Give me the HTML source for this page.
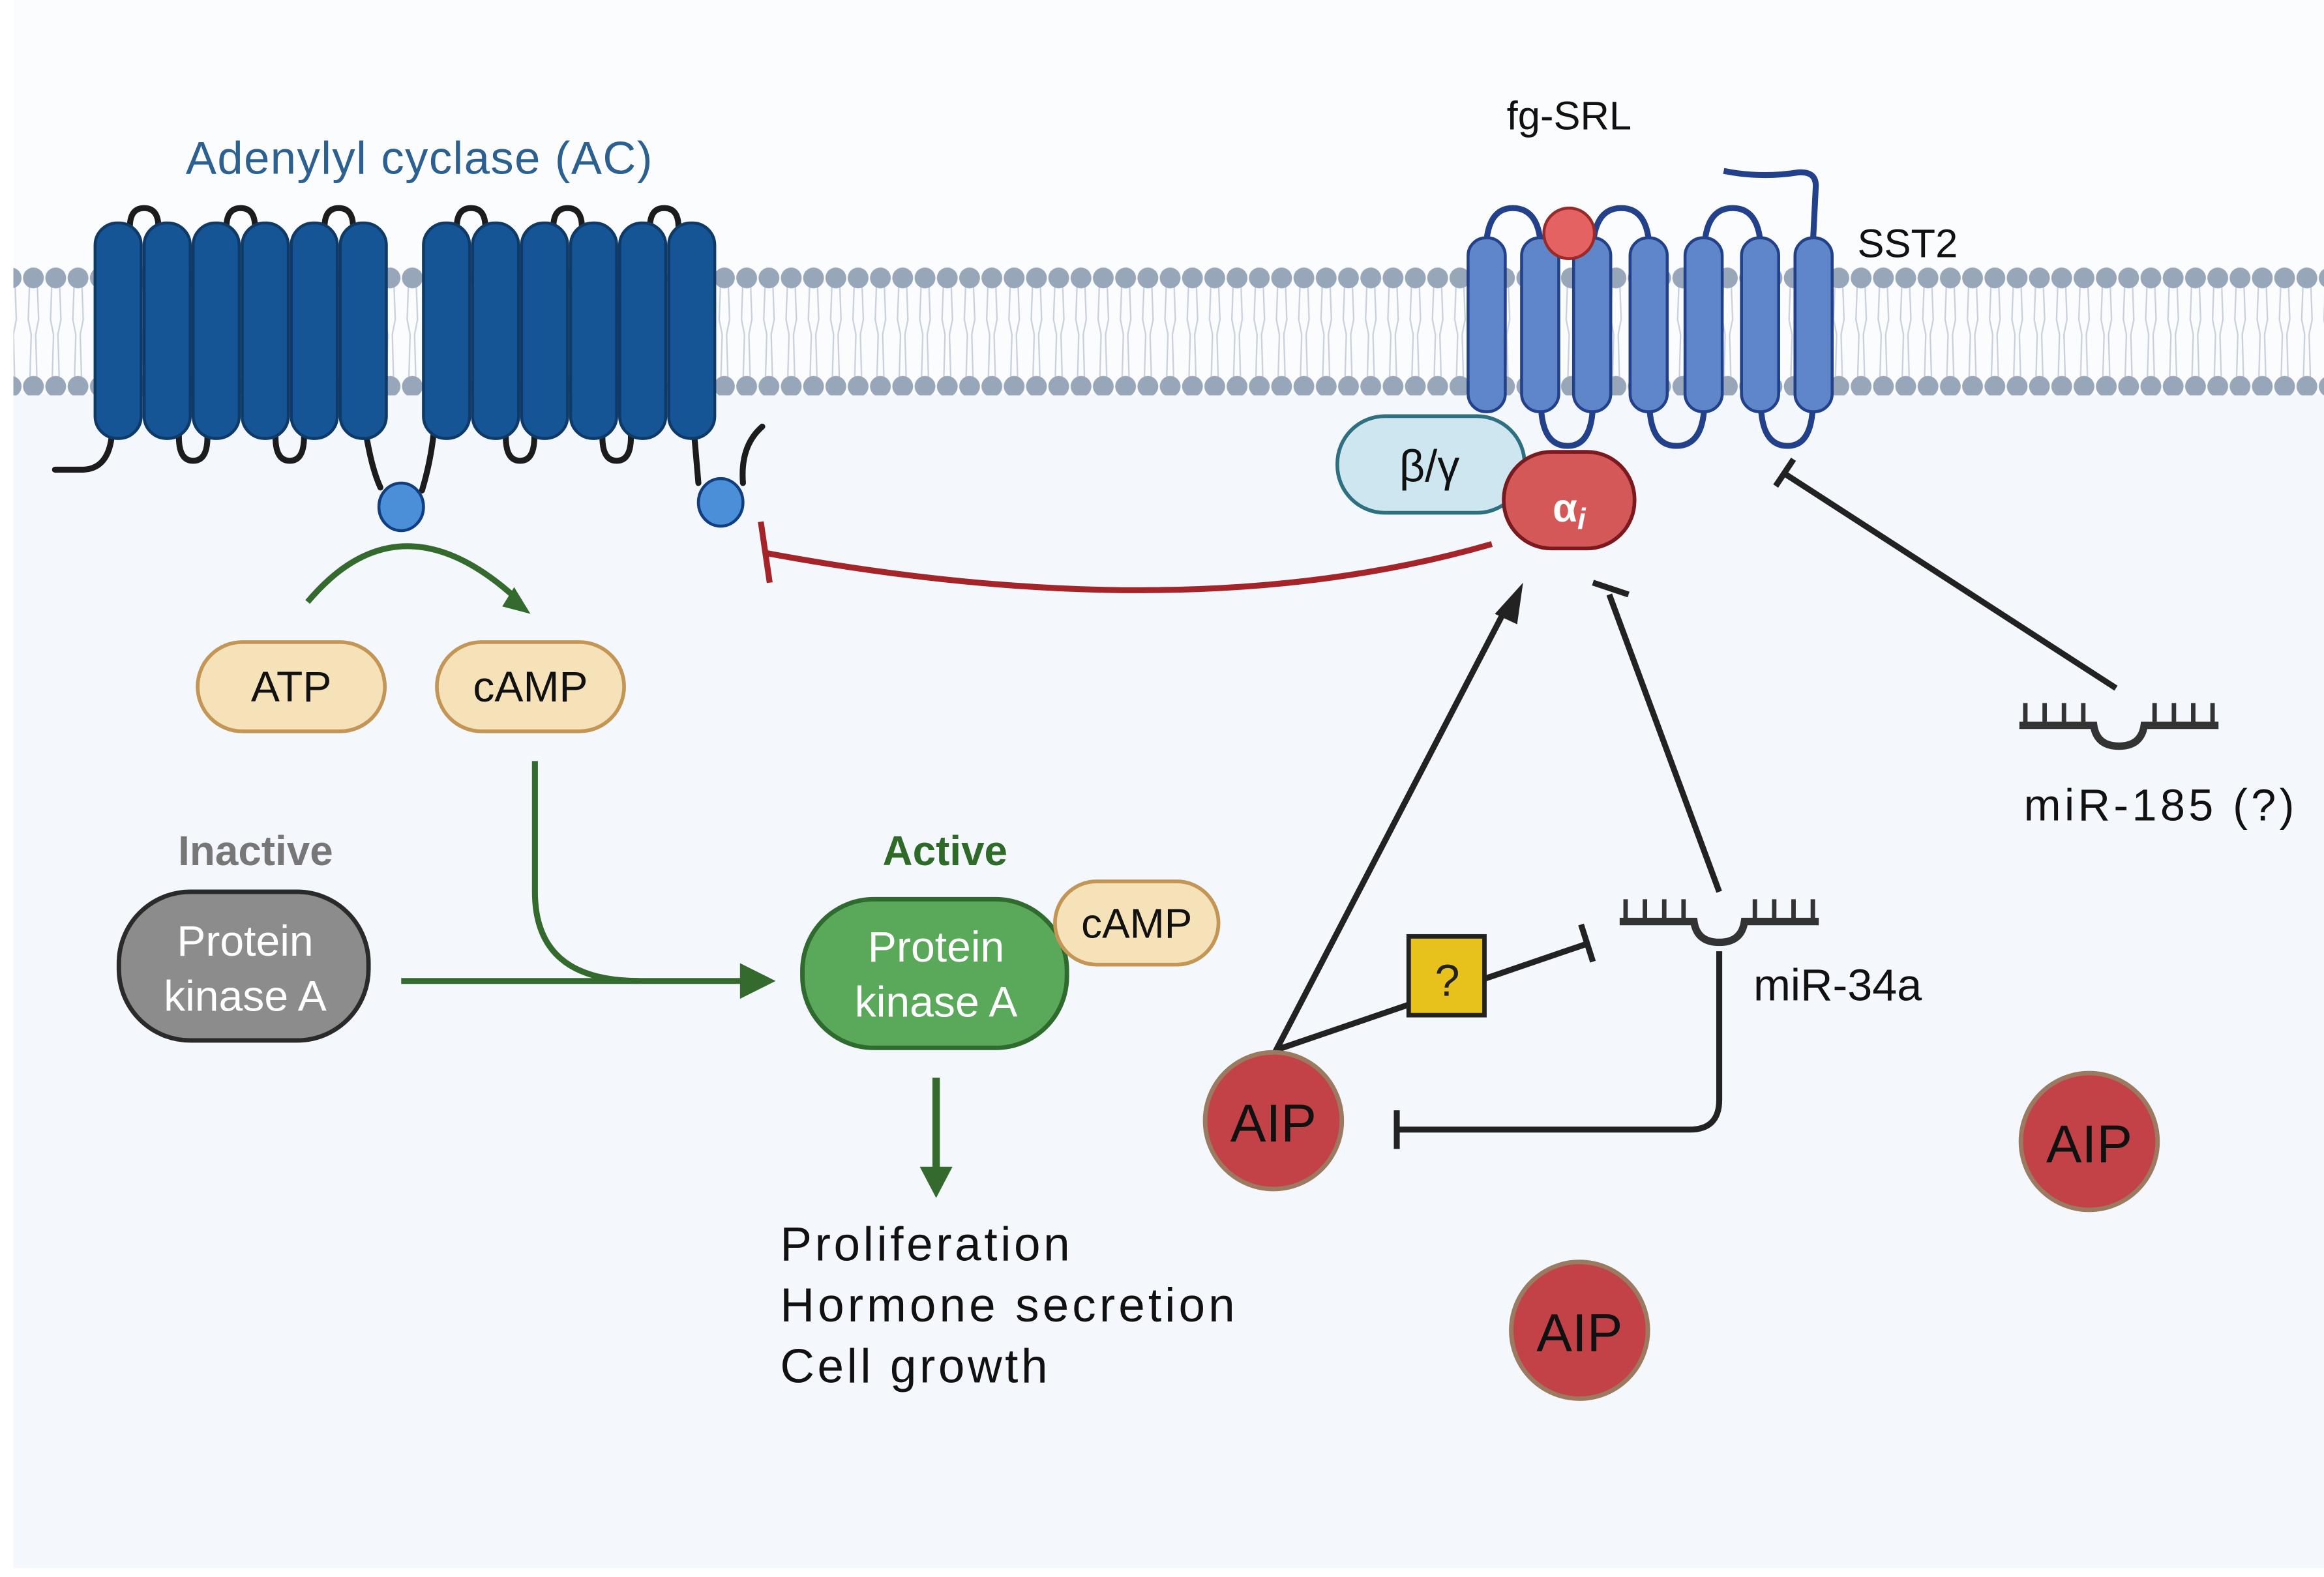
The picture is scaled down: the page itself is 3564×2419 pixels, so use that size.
<!DOCTYPE html>
<html><head><meta charset="utf-8"><style>
html,body{margin:0;padding:0;background:#fff}
svg{display:block}
text{font-family:"Liberation Sans","DejaVu Sans",sans-serif}
</style></head><body>
<svg width="3564" height="2419" viewBox="0 0 1564 1061" preserveAspectRatio="none" xmlns="http://www.w3.org/2000/svg">
<defs>
<pattern id="mem" x="0" y="0" width="15" height="90" patternUnits="userSpaceOnUse">
<path d="M5 8 L4 35 L6 45 L5 80 M10 8 L11 35 L9 45 L10 80" stroke="#c8d0dc" stroke-width="1" fill="none"/>
<circle cx="7.5" cy="7" r="7" fill="#98a6ba"/>
<circle cx="7.5" cy="80" r="7" fill="#98a6ba"/>
</pattern>
</defs>
<rect x="0" y="0" width="1564" height="1061" fill="#fff"/>
<rect x="9" y="0" width="1555" height="1055" fill="#f4f7fb"/>
<rect x="9" y="0" width="1555" height="265" fill="#fbfcfd"/>
<rect x="9" y="178" width="1555" height="88" fill="url(#mem)"/>

<!-- AC protein -->
<g stroke="#1c1c1c" stroke-width="4" fill="none" stroke-linecap="round">
<path d="M37 316 L55 316 Q72 316 75 295 L78 285"/>
<path d="M88 160 Q85 140 97 140 Q109 140 106 160"/><path d="M153 160 Q150 140 162 140 Q174 140 171 160"/><path d="M219 160 Q216 140 228 140 Q240 140 237 160"/>
<path d="M121 285 Q118 310 130 310 Q142 310 139 285"/><path d="M186 285 Q183 310 195 310 Q207 310 204 285"/>
<path d="M246 290 Q250 315 256 328 M284 330 Q290 310 292 290"/>
<path d="M308 160 Q305 140 317 140 Q329 140 326 160"/><path d="M373 160 Q370 140 382 140 Q394 140 391 160"/><path d="M438 160 Q435 140 447 140 Q459 140 456 160"/>
<path d="M341 285 Q338 310 350 310 Q362 310 359 285"/><path d="M406 285 Q403 310 415 310 Q427 310 424 285"/>
<path d="M467 290 L470 325 M500 325 Q498 300 513 287"/>
</g>
<g fill="#155596" stroke="#0f3a68" stroke-width="2">
<rect x="64" y="150" width="31" height="145" rx="15"/>
<rect x="97" y="150" width="31" height="145" rx="15"/>
<rect x="130" y="150" width="31" height="145" rx="15"/>
<rect x="163" y="150" width="31" height="145" rx="15"/>
<rect x="196" y="150" width="31" height="145" rx="15"/>
<rect x="229" y="150" width="31" height="145" rx="15"/>
<rect x="285" y="150" width="31" height="145" rx="15"/>
<rect x="318" y="150" width="31" height="145" rx="15"/>
<rect x="351" y="150" width="31" height="145" rx="15"/>
<rect x="384" y="150" width="31" height="145" rx="15"/>
<rect x="417" y="150" width="31" height="145" rx="15"/>
<rect x="450" y="150" width="31" height="145" rx="15"/>
</g>
<ellipse cx="270" cy="341" rx="15" ry="16" fill="#4a8fd8" stroke="#123e80" stroke-width="2"/>
<ellipse cx="485" cy="338" rx="15" ry="16" fill="#4a8fd8" stroke="#123e80" stroke-width="2"/>
<text x="282" y="117" font-size="31" fill="#2c6090" text-anchor="middle" textLength="314">Adenylyl cyclase (AC)</text>

<!-- SST2 -->
<g stroke="#23418a" stroke-width="4" fill="none">
<path d="M1000 170 Q1000 140 1018 140 Q1037 140 1037 170"/>
<path d="M1072 170 Q1072 140 1091 140 Q1110 140 1110 170"/>
<path d="M1147 170 Q1147 140 1166 140 Q1185 140 1185 170"/>
<path d="M1220 165 L1222 125 Q1222 115 1210 116 Q1185 120 1160 115"/>
<path d="M1037 270 Q1037 300 1055 300 Q1072 300 1072 270"/>
<path d="M1110 270 Q1110 300 1128 300 Q1147 300 1147 270"/>
<path d="M1185 270 Q1185 300 1203 300 Q1220 300 1220 270"/>
</g>
<g fill="#5f86c9" stroke="#23418a" stroke-width="2">
<rect x="988" y="160" width="25" height="117" rx="12"/>
<rect x="1024" y="160" width="25" height="117" rx="12"/>
<rect x="1059" y="160" width="25" height="117" rx="12"/>
<rect x="1097" y="160" width="25" height="117" rx="12"/>
<rect x="1134" y="160" width="25" height="117" rx="12"/>
<rect x="1172" y="160" width="25" height="117" rx="12"/>
<rect x="1208" y="160" width="25" height="117" rx="12"/>
</g>
<circle cx="1056" cy="157" r="17" fill="#e46262" stroke="#9a2a2a" stroke-width="2"/>
<text x="1056" y="87" font-size="27" fill="#111" text-anchor="middle">fg-SRL</text>
<text x="1250" y="173" font-size="27" fill="#111">SST2</text>

<rect x="900" y="280" width="126" height="65" rx="32" fill="#cde6f0" stroke="#2e6f80" stroke-width="2.5"/>
<text x="962" y="324" font-size="30" fill="#111" text-anchor="middle">β/γ</text>
<rect x="1012" y="304" width="88" height="65" rx="32" fill="#d45858" stroke="#7a1a1e" stroke-width="2.5"/>
<text x="1056" y="351" font-size="27" font-weight="bold" fill="#fff" text-anchor="middle">α<tspan font-size="20" font-style="italic" dy="5">i</tspan></text>

<path d="M1004 366 Q800 425 515 372" stroke="#a3252a" stroke-width="4" fill="none"/>
<line x1="512" y1="351" x2="518" y2="392" stroke="#a3252a" stroke-width="4"/>

<!-- left pathway -->
<path d="M207 405 Q270 330 350 405" stroke="#356a2e" stroke-width="4" fill="none"/>
<path d="M346 395 L357 413 L338 408Z" fill="#356a2e"/>
<rect x="133" y="432" width="126" height="60" rx="30" fill="#f6e2b8" stroke="#c39655" stroke-width="2.5"/>
<text x="196" y="472" font-size="29" fill="#111" text-anchor="middle">ATP</text>
<rect x="294" y="432" width="126" height="60" rx="30" fill="#f6e2b8" stroke="#c39655" stroke-width="2.5"/>
<text x="357" y="472" font-size="29" fill="#111" text-anchor="middle">cAMP</text>

<text x="172" y="582" font-size="28" font-weight="bold" fill="#777" text-anchor="middle">Inactive</text>
<rect x="80" y="600" width="168" height="100" rx="48" fill="#8c8c8c" stroke="#2a2a2a" stroke-width="3"/>
<text x="165" y="643" font-size="29" fill="#fff" text-anchor="middle">Protein</text>
<text x="165" y="680" font-size="29" fill="#fff" text-anchor="middle">kinase A</text>

<line x1="270" y1="660" x2="505" y2="660" stroke="#356a2e" stroke-width="4"/>
<path d="M498 648 L522 660 L498 672Z" fill="#356a2e"/>
<path d="M360 512 L360 600 Q360 660 430 660" stroke="#356a2e" stroke-width="4" fill="none"/>

<text x="636" y="582" font-size="28" font-weight="bold" fill="#2e6a28" text-anchor="middle">Active</text>
<rect x="540" y="605" width="178" height="100" rx="48" fill="#5aa85a" stroke="#2f6a2f" stroke-width="3"/>
<text x="630" y="647" font-size="29" fill="#fff" text-anchor="middle">Protein</text>
<text x="630" y="684" font-size="29" fill="#fff" text-anchor="middle">kinase A</text>
<rect x="710" y="593" width="110" height="56" rx="28" fill="#f6e2b8" stroke="#c39655" stroke-width="2.5"/>
<text x="765" y="631" font-size="28" fill="#111" text-anchor="middle">cAMP</text>

<line x1="630" y1="725" x2="630" y2="790" stroke="#356a2e" stroke-width="5"/>
<path d="M619 785 L630 806 L641 785Z" fill="#356a2e"/>
<text x="525" y="848" font-size="32" fill="#111" textLength="195">Proliferation</text>
<text x="525" y="889" font-size="32" fill="#111" textLength="306">Hormone secretion</text>
<text x="525" y="930" font-size="32" fill="#111" textLength="180">Cell growth</text>

<!-- right pathway -->
<g stroke="#222" stroke-width="4" fill="none">
<line x1="857" y1="710" x2="1012" y2="412"/>
<line x1="1157" y1="600" x2="1083" y2="400"/>
<line x1="1072" y1="392" x2="1096" y2="400"/>
<line x1="860" y1="706" x2="1068" y2="635"/>
<line x1="1064" y1="622" x2="1072" y2="647"/>
<path d="M1157 640 L1157 740 Q1157 760 1137 760 L940 760"/>
<line x1="940" y1="747" x2="940" y2="773"/>
<line x1="1424" y1="463" x2="1200" y2="318"/>
<line x1="1195" y1="327" x2="1207" y2="309"/>
</g>
<path d="M1025 392 L1006 413 L1021 420Z" fill="#222"/>
<rect x="948" y="630" width="51" height="53" fill="#e8c21c" stroke="#222" stroke-width="3"/>
<text x="974" y="670" font-size="30" fill="#222" text-anchor="middle">?</text>

<g stroke="#333" fill="none">
<path d="M1090 620 L1140 620 Q1142 634 1157 634 Q1172 634 1174 620 L1224 620" stroke-width="5"/>
<path d="M1094 620 V605 M1107 620 V605 M1120 620 V605 M1133 620 V605 M1181 620 V605 M1194 620 V605 M1207 620 V605 M1220 620 V605" stroke-width="3"/>
</g>
<text x="1180" y="673" font-size="30" fill="#111">miR-34a</text>
<g stroke="#333" fill="none">
<path d="M1359 488 L1409 488 Q1411 502 1426 502 Q1441 502 1443 488 L1493 488" stroke-width="5"/>
<path d="M1363 488 V473 M1376 488 V473 M1389 488 V473 M1402 488 V473 M1450 488 V473 M1463 488 V473 M1476 488 V473 M1489 488 V473" stroke-width="3"/>
</g>
<text x="1362" y="552" font-size="30" fill="#111" textLength="182">miR-185 (?)</text>

<circle cx="857" cy="754" r="46" fill="#c24247" stroke="#9c7a62" stroke-width="3"/>
<text x="857" y="768" font-size="36" fill="#111" text-anchor="middle">AIP</text>
<circle cx="1406" cy="768" r="46" fill="#c24247" stroke="#9c7a62" stroke-width="3"/>
<text x="1406" y="782" font-size="36" fill="#111" text-anchor="middle">AIP</text>
<circle cx="1063" cy="895" r="46" fill="#c24247" stroke="#9c7a62" stroke-width="3"/>
<text x="1063" y="909" font-size="36" fill="#111" text-anchor="middle">AIP</text>
</svg>
</body></html>
